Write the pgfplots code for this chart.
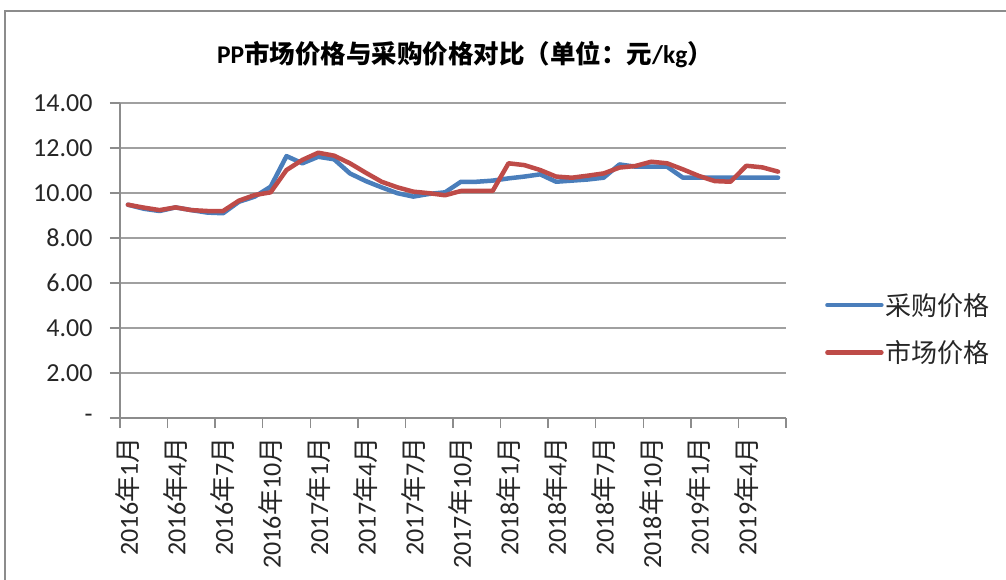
\documentclass[border=0pt]{standalone}
\usepackage{pgfplots}
\pgfplotsset{compat=1.18}
\usepackage{pgfplotstable}
\usepackage{fontspec}
\setmainfont{Carlito}
\newfontfamily\cjk{Noto Sans CJK SC}
\definecolor{cblue}{HTML}{4A7EBB}
\definecolor{cred}{HTML}{BE4B48}
\definecolor{axgray}{HTML}{8C8C8C}
\definecolor{grgray}{HTML}{A0A0A0}
\pgfplotstableread{
i buy market
0 9.48 9.48
1 9.30 9.35
2 9.20 9.24
3 9.36 9.36
4 9.24 9.24
5 9.13 9.20
6 9.10 9.20
7 9.61 9.66
8 9.84 9.91
9 10.28 10.03
10 11.64 11.02
11 11.32 11.47
12 11.61 11.79
13 11.50 11.66
14 10.87 11.32
15 10.53 10.90
16 10.25 10.50
17 9.99 10.25
18 9.84 10.06
19 9.96 9.99
20 10.03 9.90
21 10.50 10.09
22 10.50 10.09
23 10.55 10.09
24 10.65 11.32
25 10.73 11.24
26 10.83 11.02
27 10.50 10.73
28 10.55 10.68
29 10.60 10.77
30 10.68 10.87
31 11.27 11.13
32 11.17 11.20
33 11.17 11.39
34 11.17 11.32
35 10.68 11.05
36 10.68 10.76
37 10.68 10.53
38 10.68 10.50
39 10.68 11.21
40 10.68 11.14
41 10.68 10.95
}\datatable
\begin{document}
\begin{tikzpicture}[x=1pt,y=1pt]
\useasboundingbox (0,0) rectangle (1006,579);
\draw[axgray, line width=2pt] (5,-2) -- (5,567.5) -- (1010,567.5);
\node[font=\fontsize{25.5}{30}\selectfont\bfseries] at (465,524) {PP{\cjk 市场价格与采购价格对比（单位：元}/kg{\cjk ）}};
\begin{axis}[
  at={(120pt,161pt)}, anchor=south west,
  scale only axis, width=666pt, height=315pt,
  xmin=-0.5, xmax=41.5, ymin=0, ymax=14,
  axis x line*=bottom, axis y line*=left,
  axis line style={axgray, line width=1.3pt},
  tick align=outside, major tick length=10pt,
  tick style={axgray, line width=1.3pt},
  xtick={-0.5,2.5,...,41.5}, xticklabels={},
  extra x ticks={0,3,...,39},
  extra x tick labels={2016{\cjk 年}1{\cjk 月},2016{\cjk 年}4{\cjk 月},2016{\cjk 年}7{\cjk 月},2016{\cjk 年}10{\cjk 月},2017{\cjk 年}1{\cjk 月},2017{\cjk 年}4{\cjk 月},2017{\cjk 年}7{\cjk 月},2017{\cjk 年}10{\cjk 月},2018{\cjk 年}1{\cjk 月},2018{\cjk 年}4{\cjk 月},2018{\cjk 年}7{\cjk 月},2018{\cjk 年}10{\cjk 月},2019{\cjk 年}1{\cjk 月},2019{\cjk 年}4{\cjk 月}},
  extra x tick style={major tick length=0pt, grid=none},
  xticklabel shift=16pt,
  xticklabel style={rotate=90, anchor=east, font=\fontsize{26}{30}\selectfont, text=black!85},
  ytick={0,2,...,14},
  yticklabels={-,2.00,4.00,6.00,8.00,10.00,12.00,14.00},
  yticklabel style={font=\fontsize{26}{30}\selectfont, text=black!85, xshift=-14pt},
  ymajorgrids, grid style={grgray, line width=1.3pt},
  legend style={draw=none, fill=none, at={(1.054,0.283)}, anchor=west,
    font=\fontsize{26}{30}\selectfont\cjk, row sep=20pt, text=black!85},
  legend cell align=left,
  legend image code/.code={\draw[#1, line width=4.5pt] (0pt,0pt) -- (54pt,0pt);},
]
\addplot[cblue, line width=4.5pt, line join=round, line cap=round] table[x=i,y=buy] {\datatable};
\addlegendentry{采购价格}
\addplot[cred, line width=4.5pt, line join=round, line cap=round] table[x=i,y=market] {\datatable};
\addlegendentry{市场价格}
\end{axis}
\end{tikzpicture}
\end{document}
